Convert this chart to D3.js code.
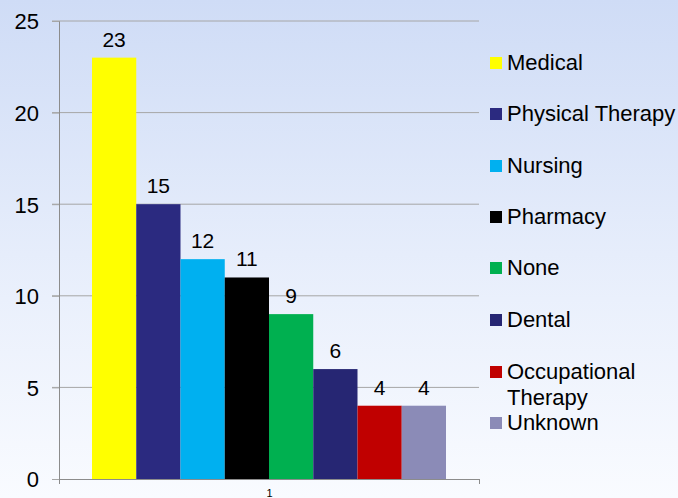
<!DOCTYPE html>
<html>
<head>
<meta charset="utf-8">
<script src="https://cdn.jsdelivr.net/npm/d3@7"></script>
<style>
  body { margin: 0; }
  text { font-family: "Liberation Sans", Arial, sans-serif; fill: #000; }
</style>
</head>
<body>
<div id="figure-container"></div>
<script>
var categories = ['Medical', 'Physical Therapy', 'Nursing', 'Pharmacy', 'None', 'Dental', 'Occupational Therapy', 'Unknown'];
var values = [23, 15, 12, 11, 9, 6, 4, 4];
var colors = ['#ffff00', '#2b2a80', '#00b0f0', '#000000', '#00b050', '#262673', '#c00000', '#8b8bb7'];
var yTicks = [0, 5, 10, 15, 20, 25];
var xLabel = '1';

var fullWidth = 678, fullHeight = 498;
var margin = {top: 21, left: 59};
var width = 420, height = 458;

var svg = d3.select('#figure-container')
  .append('svg')
  .attr('width', fullWidth)
  .attr('height', fullHeight);

var grad = svg.append('defs').append('linearGradient')
  .attr('id', 'bg').attr('x1', 0).attr('y1', 0).attr('x2', 0).attr('y2', 1);
grad.append('stop').attr('offset', '0%').attr('stop-color', '#cfdcf6');
grad.append('stop').attr('offset', '60%').attr('stop-color', '#eaf0fc');
grad.append('stop').attr('offset', '100%').attr('stop-color', '#f9fbff');

svg.append('rect')
  .attr('width', fullWidth).attr('height', fullHeight)
  .attr('fill', 'url(#bg)');

var g = svg.append('g')
  .attr('transform', `translate(${margin.left},${margin.top})`);

var yScale = d3.scaleLinear().domain([0, 25]).range([height, 0]);

var outer = 33;
var xScale = d3.scaleBand()
  .domain(categories)
  .range([outer, width - outer])
  .padding(0);

// gridlines
g.append('g')
  .selectAll('line')
  .data(yTicks.filter(d => d > 0))
  .enter().append('line')
  .attr('x1', -7).attr('x2', width)
  .attr('y1', d => yScale(d)).attr('y2', d => yScale(d))
  .attr('stroke', '#a6a6a6').attr('stroke-width', 1);

// y axis
var yAxis = d3.axisLeft(yScale).tickValues(yTicks).tickSize(7).tickPadding(13);
var ya = g.append('g').attr('class', 'axis y').call(yAxis);
ya.select('.domain').attr('stroke', '#8c8c8c');
ya.selectAll('.tick line').attr('stroke', '#a6a6a6');
ya.selectAll('.tick text')
  .style('font-size', '22px')
  .style('font-family', '"Liberation Sans", Arial, sans-serif')
  .attr('fill', '#000')
  .attr('dy', '0.36em');

// bars
g.append('g')
  .selectAll('rect')
  .data(categories)
  .enter().append('rect')
  .attr('x', d => xScale(d))
  .attr('y', (d, i) => yScale(values[i]))
  .attr('width', xScale.bandwidth())
  .attr('height', (d, i) => height - yScale(values[i]))
  .attr('fill', (d, i) => colors[i]);

// value labels
g.append('g')
  .selectAll('text')
  .data(categories)
  .enter().append('text')
  .attr('x', d => xScale(d) + xScale.bandwidth() / 2)
  .attr('y', (d, i) => yScale(values[i]) - 11)
  .attr('text-anchor', 'middle')
  .style('font-size', '21px')
  .text((d, i) => values[i]);

// x axis
var xAxisScale = d3.scalePoint().domain(['', xLabel, ' ']).range([0, width]);
var xa = g.append('g')
  .attr('transform', `translate(0,${height})`)
  .call(d3.axisBottom(xAxisScale).tickSize(5).tickSizeOuter(5));
xa.select('.domain').attr('stroke', '#8c8c8c');
xa.selectAll('.tick line').attr('stroke', '#8c8c8c');
xa.selectAll('.tick').filter(d => d === xLabel).select('line').remove();
xa.selectAll('.tick text')
  .style('font-size', '11px')
  .style('font-family', '"Liberation Sans", Arial, sans-serif')
  .attr('fill', '#000')
  .attr('y', 18)
  .attr('dy', 0);

// legend
var legendY = [63, 114, 166, 217, 268, 320, 372, 423];
var legend = svg.append('g');
var items = legend.selectAll('g')
  .data(categories)
  .enter().append('g')
  .attr('transform', (d, i) => `translate(490,${legendY[i]})`);
items.append('rect')
  .attr('x', 0).attr('y', -6)
  .attr('width', 12).attr('height', 12)
  .attr('fill', (d, i) => colors[i]);
items.append('text')
  .attr('x', 17).attr('y', 6.5)
  .style('font-size', '22px')
  .each(function(d) {
    var t = d3.select(this);
    if (d === 'Occupational Therapy') {
      t.append('tspan').attr('x', 17).text('Occupational');
      t.append('tspan').attr('x', 17).attr('dy', 26).text('Therapy');
    } else {
      t.text(d);
    }
  });
</script>
</body>
</html>
